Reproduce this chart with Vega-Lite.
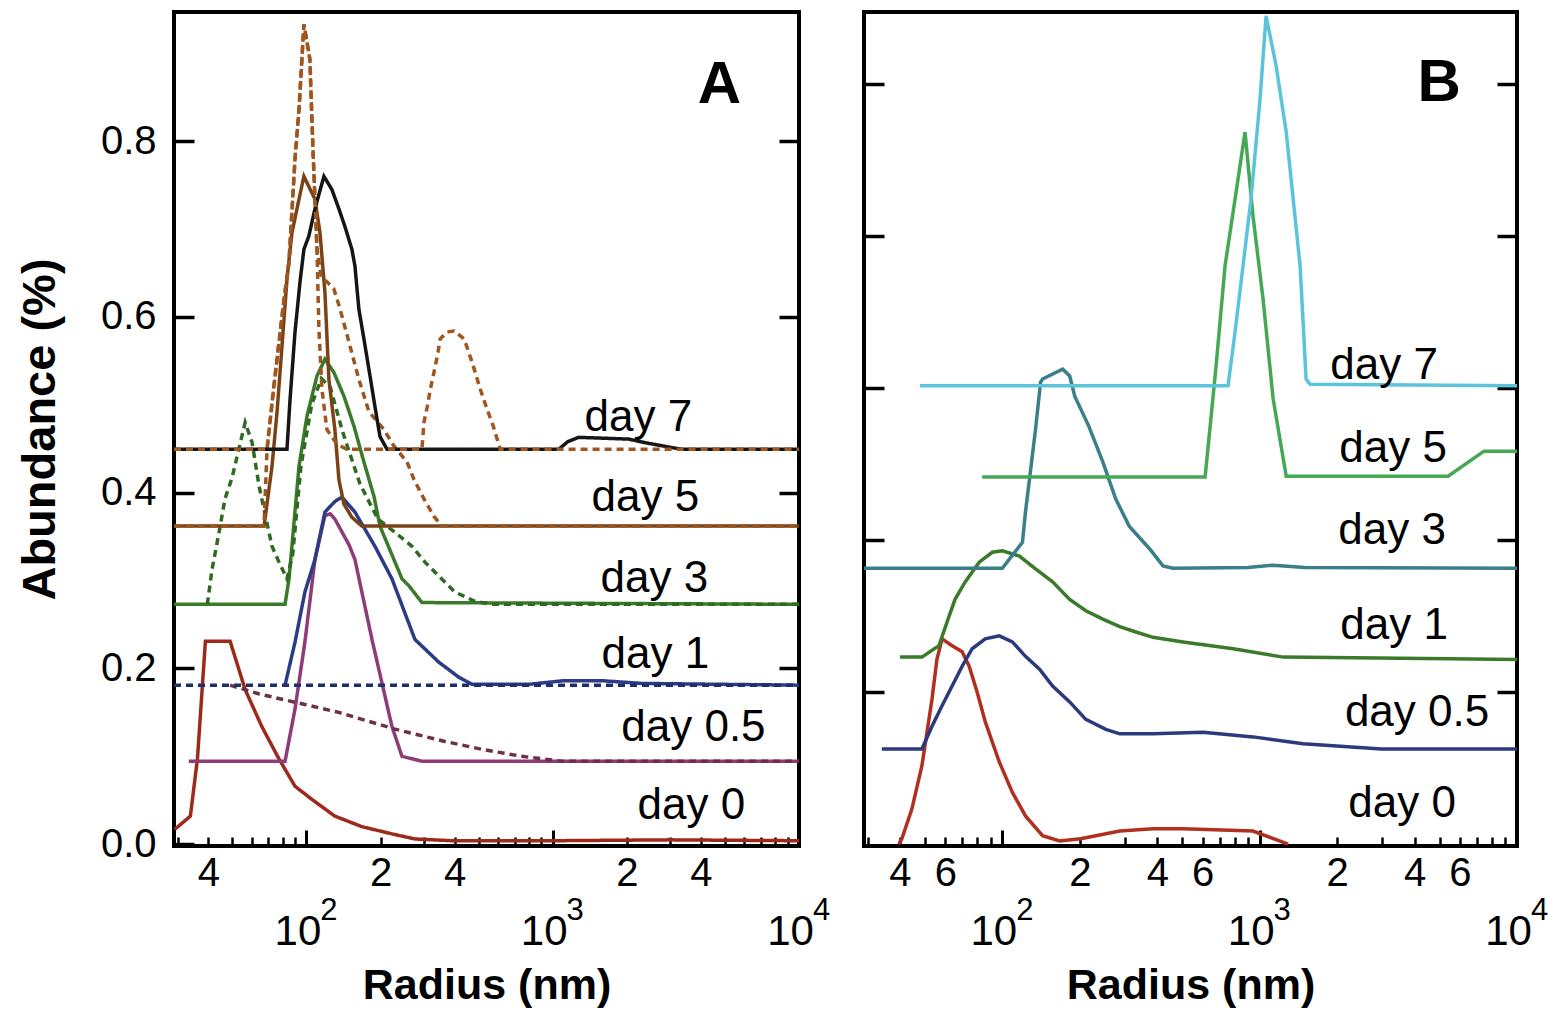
{
  "$schema": "https://vega.github.io/schema/vega-lite/v6.json",
  "background": "white",
  "padding": {"left": 14, "top": 10, "right": 0, "bottom": 0},
  "spacing": 65,
  "bounds": "flush",
  "resolve": {"scale": {"color": "independent", "strokeDash": "independent"}},
  "config": {
    "view": {"stroke": "black", "strokeWidth": 4},
    "axis": {"domain": false, "grid": false, "tickColor": "black", "labelColor": "black", "titleColor": "black", "labelFont": "Liberation Sans", "titleFont": "Liberation Sans"},
    "text": {"font": "Liberation Sans"}
  },
  "datasets": {
    "a": [
      {"s":"d0","k":"data","x":29.2,"y":0.017},{"s":"d0","k":"data","x":33.8,"y":0.032},{"s":"d0","k":"data","x":36.1,"y":0.097},{"s":"d0","k":"data","x":38.9,"y":0.231},{"s":"d0","k":"data","x":49.0,"y":0.231},{"s":"d0","k":"data","x":56.4,"y":0.176},{"s":"d0","k":"data","x":65.9,"y":0.134},{"s":"d0","k":"data","x":77.4,"y":0.097},{"s":"d0","k":"data","x":89.9,"y":0.066},{"s":"d0","k":"data","x":105.3,"y":0.051},{"s":"d0","k":"data","x":130.5,"y":0.032},{"s":"d0","k":"data","x":168,"y":0.020},{"s":"d0","k":"data","x":228.8,"y":0.011},{"s":"d0","k":"data","x":275.9,"y":0.006},{"s":"d0","k":"data","x":390,"y":0.004},{"s":"d0","k":"data","x":1000,"y":0.004},{"s":"d0","k":"data","x":3000,"y":0.005},{"s":"d0","k":"data","x":10000,"y":0.004},

      {"s":"d05","k":"data","x":33.3,"y":0.0945},{"s":"d05","k":"data","x":81.9,"y":0.0945},{"s":"d05","k":"data","x":89.9,"y":0.154},{"s":"d05","k":"data","x":98.6,"y":0.230},{"s":"d05","k":"data","x":108.3,"y":0.324},{"s":"d05","k":"data","x":118.9,"y":0.374},{"s":"d05","k":"data","x":125,"y":0.376},{"s":"d05","k":"data","x":130.5,"y":0.370},{"s":"d05","k":"data","x":148.8,"y":0.341},{"s":"d05","k":"data","x":157.4,"y":0.324},{"s":"d05","k":"data","x":184.6,"y":0.233},{"s":"d05","k":"data","x":222.5,"y":0.134},{"s":"d05","k":"data","x":244.4,"y":0.100},{"s":"d05","k":"data","x":294.5,"y":0.0945},{"s":"d05","k":"data","x":10000,"y":0.0945},

      {"s":"d05f","k":"fit","x":49.0,"y":0.181},{"s":"d05f","k":"fit","x":64.3,"y":0.171},{"s":"d05f","k":"fit","x":98.6,"y":0.159},{"s":"d05f","k":"fit","x":135.5,"y":0.150},{"s":"d05f","k":"fit","x":228.8,"y":0.131},{"s":"d05f","k":"fit","x":365,"y":0.117},{"s":"d05f","k":"fit","x":516,"y":0.108},{"s":"d05f","k":"fit","x":750,"y":0.100},{"s":"d05f","k":"fit","x":1089,"y":0.0945},{"s":"d05f","k":"fit","x":10000,"y":0.0945},

      {"s":"d1","k":"data","x":81.9,"y":0.181},{"s":"d1","k":"data","x":89.9,"y":0.230},{"s":"d1","k":"data","x":98.6,"y":0.287},{"s":"d1","k":"data","x":108.3,"y":0.324},{"s":"d1","k":"data","x":118.9,"y":0.378},{"s":"d1","k":"data","x":130.5,"y":0.390},{"s":"d1","k":"data","x":139.3,"y":0.395},{"s":"d1","k":"data","x":157.4,"y":0.378},{"s":"d1","k":"data","x":189.8,"y":0.339},{"s":"d1","k":"data","x":222.5,"y":0.302},{"s":"d1","k":"data","x":275.9,"y":0.233},{"s":"d1","k":"data","x":345.3,"y":0.207},{"s":"d1","k":"data","x":416,"y":0.190},{"s":"d1","k":"data","x":470,"y":0.182},{"s":"d1","k":"data","x":800,"y":0.182},{"s":"d1","k":"data","x":1100,"y":0.186},{"s":"d1","k":"data","x":1600,"y":0.186},{"s":"d1","k":"data","x":2300,"y":0.183},{"s":"d1","k":"data","x":10000,"y":0.181},

      {"s":"d1f","k":"fit","x":29,"y":0.181},{"s":"d1f","k":"fit","x":10000,"y":0.181},

      {"s":"d3","k":"data","x":29,"y":0.273},{"s":"d3","k":"data","x":81.9,"y":0.273},{"s":"d3","k":"data","x":85.0,"y":0.302},{"s":"d3","k":"data","x":93.3,"y":0.430},{"s":"d3","k":"data","x":100.5,"y":0.487},{"s":"d3","k":"data","x":110.4,"y":0.533},{"s":"d3","k":"data","x":118.9,"y":0.552},{"s":"d3","k":"data","x":129.2,"y":0.537},{"s":"d3","k":"data","x":142.0,"y":0.510},{"s":"d3","k":"data","x":155.9,"y":0.476},{"s":"d3","k":"data","x":171.2,"y":0.435},{"s":"d3","k":"data","x":188.0,"y":0.396},{"s":"d3","k":"data","x":198.9,"y":0.362},{"s":"d3","k":"data","x":244.4,"y":0.302},{"s":"d3","k":"data","x":260.9,"y":0.294},{"s":"d3","k":"data","x":294.5,"y":0.275},{"s":"d3","k":"data","x":10000,"y":0.273},

      {"s":"d3f","k":"fit","x":39.6,"y":0.273},{"s":"d3f","k":"fit","x":41.4,"y":0.313},{"s":"d3f","k":"fit","x":44.2,"y":0.355},{"s":"d3f","k":"fit","x":46.7,"y":0.393},{"s":"d3f","k":"fit","x":49.9,"y":0.417},{"s":"d3f","k":"fit","x":56.4,"y":0.480},{"s":"d3f","k":"fit","x":60.2,"y":0.457},{"s":"d3f","k":"fit","x":64.3,"y":0.407},{"s":"d3f","k":"fit","x":67.3,"y":0.381},{"s":"d3f","k":"fit","x":72.5,"y":0.339},{"s":"d3f","k":"fit","x":77.4,"y":0.321},{"s":"d3f","k":"fit","x":83.4,"y":0.302},{"s":"d3f","k":"fit","x":88,"y":0.33},{"s":"d3f","k":"fit","x":95,"y":0.43},{"s":"d3f","k":"fit","x":105,"y":0.50},{"s":"d3f","k":"fit","x":115,"y":0.53},{"s":"d3f","k":"fit","x":125,"y":0.52},{"s":"d3f","k":"fit","x":140,"y":0.47},{"s":"d3f","k":"fit","x":165,"y":0.41},{"s":"d3f","k":"fit","x":195,"y":0.37},{"s":"d3f","k":"fit","x":228.8,"y":0.355},{"s":"d3f","k":"fit","x":268.3,"y":0.339},{"s":"d3f","k":"fit","x":302.9,"y":0.321},{"s":"d3f","k":"fit","x":345.3,"y":0.305},{"s":"d3f","k":"fit","x":400.8,"y":0.287},{"s":"d3f","k":"fit","x":483,"y":0.2765},{"s":"d3f","k":"fit","x":560,"y":0.273},{"s":"d3f","k":"fit","x":10000,"y":0.273},

      {"s":"d5","k":"data","x":29,"y":0.362},{"s":"d5","k":"data","x":67.3,"y":0.362},{"s":"d5","k":"data","x":72.5,"y":0.430},{"s":"d5","k":"data","x":76.0,"y":0.492},{"s":"d5","k":"data","x":79.6,"y":0.567},{"s":"d5","k":"data","x":83.4,"y":0.643},{"s":"d5","k":"data","x":87.4,"y":0.696},{"s":"d5","k":"data","x":93.3,"y":0.734},{"s":"d5","k":"data","x":97.7,"y":0.760},{"s":"d5","k":"data","x":108.3,"y":0.734},{"s":"d5","k":"data","x":113.5,"y":0.696},{"s":"d5","k":"data","x":118.9,"y":0.628},{"s":"d5","k":"data","x":123.4,"y":0.529},{"s":"d5","k":"data","x":130.5,"y":0.472},{"s":"d5","k":"data","x":135.5,"y":0.415},{"s":"d5","k":"data","x":142,"y":0.387},{"s":"d5","k":"data","x":153,"y":0.372},{"s":"d5","k":"data","x":168,"y":0.362},{"s":"d5","k":"data","x":10000,"y":0.362},

      {"s":"d5f","k":"fit","x":29,"y":0.362},{"s":"d5f","k":"fit","x":67.3,"y":0.362},{"s":"d5f","k":"fit","x":69.2,"y":0.4495},{"s":"d5f","k":"fit","x":73.9,"y":0.523},{"s":"d5f","k":"fit","x":81.1,"y":0.620},{"s":"d5f","k":"fit","x":85.0,"y":0.663},{"s":"d5f","k":"fit","x":89.9,"y":0.780},{"s":"d5f","k":"fit","x":93.3,"y":0.836},{"s":"d5f","k":"fit","x":97.7,"y":0.933},{"s":"d5f","k":"fit","x":103.3,"y":0.893},{"s":"d5f","k":"fit","x":106.3,"y":0.791},{"s":"d5f","k":"fit","x":110.4,"y":0.677},{"s":"d5f","k":"fit","x":115,"y":0.645},{"s":"d5f","k":"fit","x":121.1,"y":0.640},{"s":"d5f","k":"fit","x":129.2,"y":0.632},{"s":"d5f","k":"fit","x":137,"y":0.609},{"s":"d5f","k":"fit","x":150.3,"y":0.567},{"s":"d5f","k":"fit","x":163.3,"y":0.529},{"s":"d5f","k":"fit","x":179.5,"y":0.492},{"s":"d5f","k":"fit","x":206.3,"y":0.472},{"s":"d5f","k":"fit","x":226.7,"y":0.453},{"s":"d5f","k":"fit","x":256.1,"y":0.435},{"s":"d5f","k":"fit","x":273.4,"y":0.415},{"s":"d5f","k":"fit","x":300.1,"y":0.393},{"s":"d5f","k":"fit","x":329.5,"y":0.373},{"s":"d5f","k":"fit","x":355.1,"y":0.362},{"s":"d5f","k":"fit","x":10000,"y":0.362},

      {"s":"d7","k":"data","x":29,"y":0.4495},{"s":"d7","k":"data","x":83.4,"y":0.4495},{"s":"d7","k":"data","x":85.8,"y":0.506},{"s":"d7","k":"data","x":89.9,"y":0.583},{"s":"d7","k":"data","x":94.2,"y":0.640},{"s":"d7","k":"data","x":97.7,"y":0.677},{"s":"d7","k":"data","x":102.3,"y":0.692},{"s":"d7","k":"data","x":108.3,"y":0.723},{"s":"d7","k":"data","x":117.8,"y":0.760},{"s":"d7","k":"data","x":126.9,"y":0.745},{"s":"d7","k":"data","x":135.5,"y":0.723},{"s":"d7","k":"data","x":143.3,"y":0.703},{"s":"d7","k":"data","x":153,"y":0.677},{"s":"d7","k":"data","x":157.4,"y":0.658},{"s":"d7","k":"data","x":163.3,"y":0.609},{"s":"d7","k":"data","x":171.2,"y":0.575},{"s":"d7","k":"data","x":181.2,"y":0.533},{"s":"d7","k":"data","x":189.8,"y":0.498},{"s":"d7","k":"data","x":198.9,"y":0.464},{"s":"d7","k":"data","x":212.4,"y":0.4495},{"s":"d7","k":"data","x":1059,"y":0.4495},{"s":"d7","k":"data","x":1150,"y":0.458},{"s":"d7","k":"data","x":1275,"y":0.463},{"s":"d7","k":"data","x":2037,"y":0.461},{"s":"d7","k":"data","x":2364,"y":0.457},{"s":"d7","k":"data","x":2958,"y":0.452},{"s":"d7","k":"data","x":3345,"y":0.4495},{"s":"d7","k":"data","x":10000,"y":0.4495},

      {"s":"d7f","k":"fit","x":29,"y":0.4495},{"s":"d7f","k":"fit","x":69.2,"y":0.4495},{"s":"d7f","k":"fit","x":73.9,"y":0.523},{"s":"d7f","k":"fit","x":81.1,"y":0.620},{"s":"d7f","k":"fit","x":85.0,"y":0.663},{"s":"d7f","k":"fit","x":89.9,"y":0.780},{"s":"d7f","k":"fit","x":93.3,"y":0.836},{"s":"d7f","k":"fit","x":97.7,"y":0.933},{"s":"d7f","k":"fit","x":103.3,"y":0.893},{"s":"d7f","k":"fit","x":106.3,"y":0.791},{"s":"d7f","k":"fit","x":110.4,"y":0.677},{"s":"d7f","k":"fit","x":112.4,"y":0.586},{"s":"d7f","k":"fit","x":115.6,"y":0.518},{"s":"d7f","k":"fit","x":121.1,"y":0.472},{"s":"d7f","k":"fit","x":133.2,"y":0.455},{"s":"d7f","k":"fit","x":146,"y":0.4495},{"s":"d7f","k":"fit","x":294.5,"y":0.4495},{"s":"d7f","k":"fit","x":300.1,"y":0.480},{"s":"d7f","k":"fit","x":309.6,"y":0.498},{"s":"d7f","k":"fit","x":318.7,"y":0.518},{"s":"d7f","k":"fit","x":329.5,"y":0.537},{"s":"d7f","k":"fit","x":339.8,"y":0.555},{"s":"d7f","k":"fit","x":349.4,"y":0.575},{"s":"d7f","k":"fit","x":373.1,"y":0.583},{"s":"d7f","k":"fit","x":398.1,"y":0.584},{"s":"d7f","k":"fit","x":437.2,"y":0.575},{"s":"d7f","k":"fit","x":469.9,"y":0.549},{"s":"d7f","k":"fit","x":507.7,"y":0.518},{"s":"d7f","k":"fit","x":536.9,"y":0.498},{"s":"d7f","k":"fit","x":573.3,"y":0.476},{"s":"d7f","k":"fit","x":612.3,"y":0.4495},{"s":"d7f","k":"fit","x":10000,"y":0.4495}
    ],
    "al": [
      {"t":"day 7","x":2227,"y":0.470},{"t":"day 5","x":2379,"y":0.379},{"t":"day 3","x":2587,"y":0.287},{"t":"day 1","x":2611,"y":0.201},{"t":"day 0.5","x":3727,"y":0.117},{"t":"day 0","x":3657,"y":0.0284}
    ],
    "ap": [{"t":"A","x":4754,"y":0.844}],
    "b": [
      {"s":"b0","x":39.6,"y":0.0},{"s":"b0","x":40.7,"y":0.007},{"s":"b0","x":44.5,"y":0.046},{"s":"b0","x":48.7,"y":0.103},{"s":"b0","x":53.3,"y":0.191},{"s":"b0","x":55.7,"y":0.243},{"s":"b0","x":58.3,"y":0.270},{"s":"b0","x":63.8,"y":0.261},{"s":"b0","x":69.8,"y":0.253},{"s":"b0","x":74.3,"y":0.234},{"s":"b0","x":79.8,"y":0.200},{"s":"b0","x":85.8,"y":0.161},{"s":"b0","x":97.3,"y":0.108},{"s":"b0","x":109.4,"y":0.068},{"s":"b0","x":123,"y":0.037},{"s":"b0","x":143.3,"y":0.011},{"s":"b0","x":167,"y":0.004},{"s":"b0","x":201.6,"y":0.007},{"s":"b0","x":286,"y":0.017},{"s":"b0","x":384.8,"y":0.020},{"s":"b0","x":503.6,"y":0.020},{"s":"b0","x":942,"y":0.017},{"s":"b0","x":1290,"y":0.0},

      {"s":"b05","x":34,"y":0.125},{"s":"b05","x":48.7,"y":0.125},{"s":"b05","x":53.3,"y":0.155},{"s":"b05","x":58.3,"y":0.182},{"s":"b05","x":63.8,"y":0.208},{"s":"b05","x":69.8,"y":0.234},{"s":"b05","x":76.3,"y":0.257},{"s":"b05","x":85.8,"y":0.270},{"s":"b05","x":97.3,"y":0.274},{"s":"b05","x":109.4,"y":0.266},{"s":"b05","x":123,"y":0.247},{"s":"b05","x":139.5,"y":0.230},{"s":"b05","x":156.8,"y":0.208},{"s":"b05","x":182.7,"y":0.187},{"s":"b05","x":211,"y":0.164},{"s":"b05","x":252.4,"y":0.151},{"s":"b05","x":286,"y":0.145},{"s":"b05","x":384.8,"y":0.145},{"s":"b05","x":602.9,"y":0.147},{"s":"b05","x":942,"y":0.141},{"s":"b05","x":1475,"y":0.132},{"s":"b05","x":2971,"y":0.125},{"s":"b05","x":10000,"y":0.125},

      {"s":"b1","x":40,"y":0.246},{"s":"b1","x":48.7,"y":0.246},{"s":"b1","x":56.7,"y":0.261},{"s":"b1","x":62.1,"y":0.300},{"s":"b1","x":65.5,"y":0.322},{"s":"b1","x":71.7,"y":0.345},{"s":"b1","x":81.3,"y":0.371},{"s":"b1","x":91.4,"y":0.384},{"s":"b1","x":100,"y":0.386},{"s":"b1","x":116.5,"y":0.379},{"s":"b1","x":134.6,"y":0.362},{"s":"b1","x":156.8,"y":0.345},{"s":"b1","x":182.7,"y":0.322},{"s":"b1","x":211,"y":0.307},{"s":"b1","x":245.7,"y":0.296},{"s":"b1","x":286,"y":0.286},{"s":"b1","x":330.3,"y":0.279},{"s":"b1","x":384.8,"y":0.272},{"s":"b1","x":503.6,"y":0.266},{"s":"b1","x":789,"y":0.257},{"s":"b1","x":1234,"y":0.246},{"s":"b1","x":10000,"y":0.243},

      {"s":"b3","x":29,"y":0.363},{"s":"b3","x":100,"y":0.363},{"s":"b3","x":106.5,"y":0.375},{"s":"b3","x":119.7,"y":0.397},{"s":"b3","x":123,"y":0.437},{"s":"b3","x":127.5,"y":0.480},{"s":"b3","x":134.6,"y":0.546},{"s":"b3","x":140.8,"y":0.608},{"s":"b3","x":143.3,"y":0.612},{"s":"b3","x":171.6,"y":0.625},{"s":"b3","x":182.7,"y":0.616},{"s":"b3","x":191.3,"y":0.589},{"s":"b3","x":216.7,"y":0.550},{"s":"b3","x":245.7,"y":0.503},{"s":"b3","x":275.9,"y":0.454},{"s":"b3","x":311.7,"y":0.418},{"s":"b3","x":374.7,"y":0.388},{"s":"b3","x":420.9,"y":0.366},{"s":"b3","x":460.3,"y":0.363},{"s":"b3","x":900,"y":0.364},{"s":"b3","x":1128,"y":0.367},{"s":"b3","x":1500,"y":0.364},{"s":"b3","x":10000,"y":0.363},

      {"s":"b5","x":83.5,"y":0.483},{"s":"b5","x":613.8,"y":0.483},{"s":"b5","x":677,"y":0.629},{"s":"b5","x":733.6,"y":0.761},{"s":"b5","x":802.4,"y":0.849},{"s":"b5","x":877.3,"y":0.937},{"s":"b5","x":942.4,"y":0.826},{"s":"b5","x":1031,"y":0.717},{"s":"b5","x":1128,"y":0.586},{"s":"b5","x":1268,"y":0.484},{"s":"b5","x":5398,"y":0.484},{"s":"b5","x":7444,"y":0.517},{"s":"b5","x":10000,"y":0.517},

      {"s":"b7","x":47.8,"y":0.603},{"s":"b7","x":753.6,"y":0.603},{"s":"b7","x":802.4,"y":0.674},{"s":"b7","x":861.7,"y":0.761},{"s":"b7","x":925.6,"y":0.849},{"s":"b7","x":1003,"y":0.980},{"s":"b7","x":1059,"y":1.09},{"s":"b7","x":1159,"y":1.024},{"s":"b7","x":1268,"y":0.937},{"s":"b7","x":1436,"y":0.761},{"s":"b7","x":1515,"y":0.612},{"s":"b7","x":1570,"y":0.605},{"s":"b7","x":10000,"y":0.603}
    ],
    "bl": [
      {"t":"day 7","x":3044,"y":0.612},{"t":"day 5","x":3299,"y":0.503},{"t":"day 3","x":3269,"y":0.395},{"t":"day 1","x":3329,"y":0.270},{"t":"day 0.5","x":4089,"y":0.155},{"t":"day 0","x":3575,"y":0.0355}
    ],
    "bp": [{"t":"B","x":4981,"y":0.978}]
  },
  "hconcat": [
    {
      "width": 625,
      "height": 834,
      "resolve": {"axis": {"x": "independent", "y": "independent"}},
      "layer": [
        {
          "data": {"name": "a"},
          "mark": {"type": "line", "strokeWidth": 3.5, "clip": true},
          "encoding": {
            "x": {"field": "x", "type": "quantitative",
              "scale": {"type": "log", "domain": [29, 10000], "nice": false},
              "axis": {"orient": "bottom", "title": null, "values": [30,40,50,60,70,80,90,200,300,400,500,600,700,800,900,2000,3000,4000,5000,6000,7000,8000,9000],
                "tickSize": -9, "tickWidth": 2.5, "labelFontSize": 40, "labelPadding": 16, "labelOverlap": false, "labelFlush": false,
                "labelExpr": "datum.value == 40 ? '4' : datum.value == 200 ? '2' : datum.value == 400 ? '4' : datum.value == 2000 ? '2' : datum.value == 4000 ? '4' : ''"}},
            "y": {"field": "y", "type": "quantitative",
              "scale": {"domain": [-0.002, 0.947], "nice": false, "zero": false},
              "axis": {"orient": "left", "values": [0, 0.2, 0.4, 0.6, 0.8], "format": ".1f", "tickSize": -20, "tickWidth": 3.5,
                "labelFontSize": 40, "labelPadding": 38, "title": "Abundance (%)", "titleFontSize": 47, "titleFontWeight": "bold", "titlePadding": 36}},
            "color": {"field": "s", "type": "nominal", "legend": null,
              "scale": {"domain": ["d0","d05","d05f","d1","d1f","d3","d3f","d5","d5f","d7","d7f"],
                "range": ["#9c2a1c","#8e3b78","#6e3046","#2b3c85","#1f2f6e","#3b7a2a","#2f6a22","#7b4216","#9a5520","#151515","#a0561e"]}},
            "strokeDash": {"field": "k", "type": "nominal", "legend": null,
              "scale": {"domain": ["data", "fit"], "range": [[1, 0], [7, 5]]}}
          }
        },
        {
          "data": {"name": "al"},
          "mark": {"type": "text", "fontSize": 44, "align": "center", "baseline": "alphabetic", "color": "black"},
          "encoding": {
            "x": {"field": "x", "type": "quantitative",
              "scale": {"type": "log", "domain": [29, 10000], "nice": false},
              "axis": {"orient": "bottom", "values": [100, 1000, 10000], "tickSize": -16, "tickWidth": 3,
                "labelFontSize": 42, "labelPadding": 81, "labelOverlap": false, "labelFlush": false, "labelOffset": -9,
                "labelExpr": "'10'",
                "title": "Radius (nm)", "titleFontSize": 43, "titleFontWeight": "bold", "titlePadding": 12}},
            "y": {"field": "y", "type": "quantitative",
              "scale": {"domain": [-0.002, 0.947], "nice": false, "zero": false},
              "axis": {"orient": "right", "values": [0.2, 0.4, 0.6, 0.8], "tickSize": -20, "tickWidth": 3.5, "labels": false, "title": null}},
            "text": {"field": "t"}
          }
        },
        {
          "data": {"name": "ap"},
          "mark": {"type": "text", "fontSize": 60, "fontWeight": "bold", "align": "center", "baseline": "alphabetic", "color": "black"},
          "encoding": {
            "x": {"field": "x", "type": "quantitative", "scale": {"type": "log", "domain": [29, 10000], "nice": false},
              "axis": {"orient": "bottom", "values": [100, 1000, 10000], "ticks": false, "tickSize": 0, "title": null,
                "labelFontSize": 31, "labelPadding": 49, "labelOverlap": false, "labelFlush": false, "labelOffset": 22,
                "labelExpr": "datum.value == 100 ? '2' : datum.value == 1000 ? '3' : '4'"}},
            "y": {"field": "y", "type": "quantitative", "scale": {"domain": [-0.002, 0.947], "nice": false, "zero": false}, "axis": null},
            "text": {"field": "t"}
          }
        }
      ]
    },
    {
      "width": 653,
      "height": 834,
      "resolve": {"axis": {"x": "independent", "y": "independent"}},
      "layer": [
        {
          "data": {"name": "b"},
          "mark": {"type": "line", "strokeWidth": 3.5, "clip": true},
          "encoding": {
            "x": {"field": "x", "type": "quantitative",
              "scale": {"type": "log", "domain": [29, 10000], "nice": false},
              "axis": {"orient": "bottom", "title": null, "values": [30,40,50,60,70,80,90,200,300,400,500,600,700,800,900,2000,3000,4000,5000,6000,7000,8000,9000],
                "tickSize": -9, "tickWidth": 2.5, "labelFontSize": 40, "labelPadding": 16, "labelOverlap": false, "labelFlush": false,
                "labelExpr": "datum.value == 40 ? '4' : datum.value == 60 ? '6' : datum.value == 200 ? '2' : datum.value == 400 ? '4' : datum.value == 600 ? '6' : datum.value == 2000 ? '2' : datum.value == 4000 ? '4' : datum.value == 6000 ? '6' : ''"}},
            "y": {"field": "y", "type": "quantitative",
              "scale": {"domain": [-0.0026, 1.095], "nice": false, "zero": false},
              "axis": {"orient": "left", "values": [0.2, 0.4, 0.6, 0.8, 1.0], "tickSize": -20, "tickWidth": 3.5, "labels": false, "title": null}},
            "color": {"field": "s", "type": "nominal", "legend": null,
              "scale": {"domain": ["b0","b05","b1","b3","b5","b7"],
                "range": ["#b03020","#2b3a7a","#3b7a2a","#3a7f8a","#45a855","#5cc4da"]}}
          }
        },
        {
          "data": {"name": "bl"},
          "mark": {"type": "text", "fontSize": 44, "align": "center", "baseline": "alphabetic", "color": "black"},
          "encoding": {
            "x": {"field": "x", "type": "quantitative",
              "scale": {"type": "log", "domain": [29, 10000], "nice": false},
              "axis": {"orient": "bottom", "values": [100, 1000, 10000], "tickSize": -16, "tickWidth": 3,
                "labelFontSize": 42, "labelPadding": 81, "labelOverlap": false, "labelFlush": false, "labelOffset": -9,
                "labelExpr": "'10'",
                "title": "Radius (nm)", "titleFontSize": 43, "titleFontWeight": "bold", "titlePadding": 12}},
            "y": {"field": "y", "type": "quantitative",
              "scale": {"domain": [-0.0026, 1.095], "nice": false, "zero": false},
              "axis": {"orient": "right", "values": [0.2, 0.4, 0.6, 0.8, 1.0], "tickSize": -20, "tickWidth": 3.5, "labels": false, "title": null}},
            "text": {"field": "t"}
          }
        },
        {
          "data": {"name": "bp"},
          "mark": {"type": "text", "fontSize": 60, "fontWeight": "bold", "align": "center", "baseline": "alphabetic", "color": "black"},
          "encoding": {
            "x": {"field": "x", "type": "quantitative", "scale": {"type": "log", "domain": [29, 10000], "nice": false},
              "axis": {"orient": "bottom", "values": [100, 1000, 10000], "ticks": false, "tickSize": 0, "title": null,
                "labelFontSize": 31, "labelPadding": 49, "labelOverlap": false, "labelFlush": false, "labelOffset": 22,
                "labelExpr": "datum.value == 100 ? '2' : datum.value == 1000 ? '3' : '4'"}},
            "y": {"field": "y", "type": "quantitative", "scale": {"domain": [-0.0026, 1.095], "nice": false, "zero": false}, "axis": null},
            "text": {"field": "t"}
          }
        }
      ]
    }
  ]
}
